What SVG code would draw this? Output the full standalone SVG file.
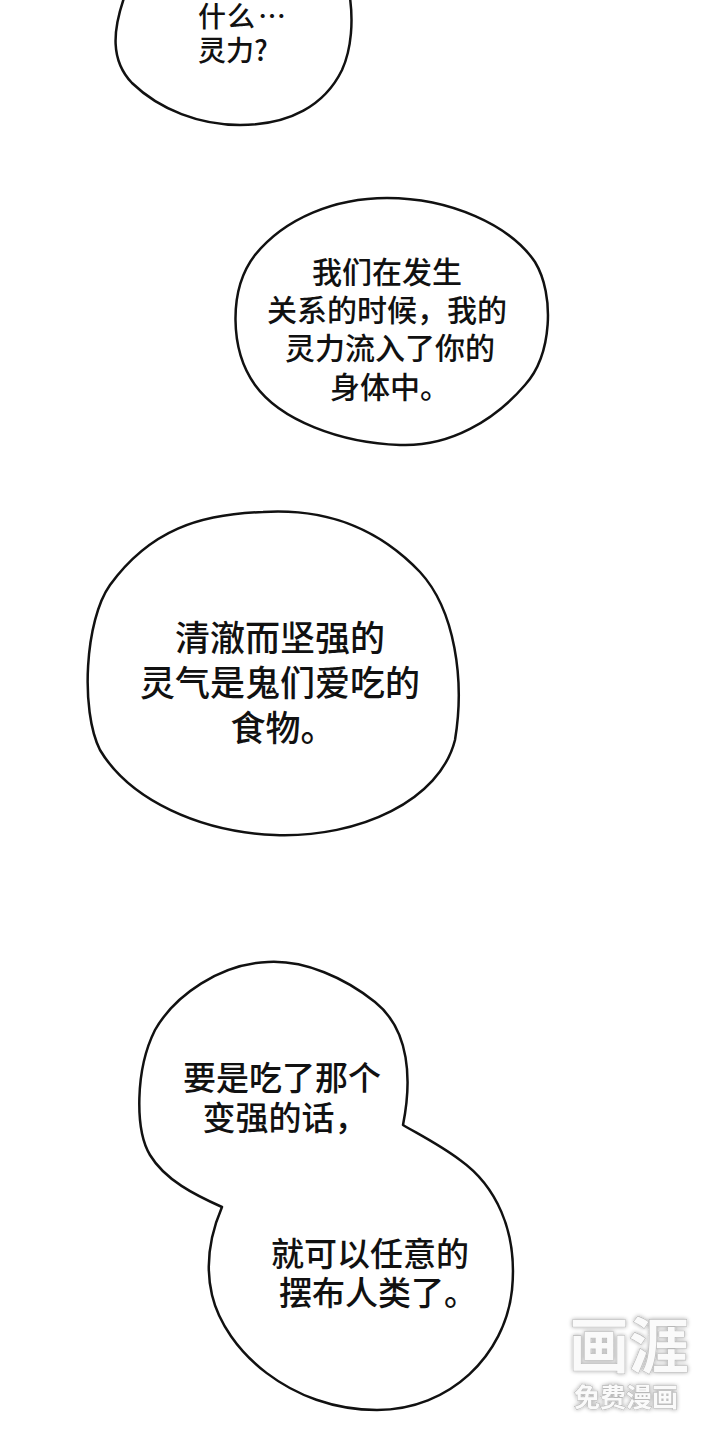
<svg xmlns="http://www.w3.org/2000/svg" width="720" height="1440" viewBox="0 0 720 1440">
<defs>
<style>
.bubble{fill:#ffffff;stroke:#111111;stroke-width:2.5;stroke-linejoin:round}
.t{font-family:"Noto Sans CJK SC","Noto Sans",sans-serif;font-weight:500;fill:#111111;text-anchor:middle}
.ts{text-anchor:start}
.wm{font-family:"Noto Sans CJK SC","Noto Sans",sans-serif;font-weight:700;fill:#fafafa;stroke:#b8b8b8;stroke-width:1.2;paint-order:stroke;text-anchor:middle}
</style>
<filter id="sh" x="-20%" y="-20%" width="140%" height="140%">
<feGaussianBlur in="SourceAlpha" stdDeviation="2"/>
<feComponentTransfer><feFuncA type="linear" slope="0.35"/></feComponentTransfer>
<feMerge><feMergeNode/><feMergeNode in="SourceGraphic"/></feMerge>
</filter>
</defs>
<rect width="720" height="1440" fill="#ffffff"/>
<g id="bubble1">
<path class="bubble" d="M 124,-2 C 113,30 110,60 132,83 C 160,110 200,125 240,125 C 290,125 325,105 342,70 C 352,48 353,20 350,-2"/>
<text class="t ts" font-size="28" x="198" y="27" letter-spacing="1">什么<tspan letter-spacing="0" dx="2">…</tspan></text>
<text class="t ts" font-size="28" x="198" y="61">灵力?</text>
</g>
<g id="bubble2">
<path class="bubble" d="M 387,198 C 450,198 510,225 535,262 C 555,295 552,355 525,385 C 495,420 450,447 400,445 C 340,443 280,420 255,385 C 230,350 228,290 255,255 C 285,218 335,198 387,198 Z"/>
<text class="t" font-size="30"><tspan x="387" y="283">我们在发生</tspan><tspan x="387" y="321">关系的时候，我的</tspan><tspan x="390" y="359">灵力流入了你的</tspan><tspan x="390" y="398">身体中。</tspan></text>
</g>
<g id="bubble3">
<path class="bubble" d="M 263,512 C 330,508 380,530 420,572 C 455,610 465,680 455,740 C 440,800 360,838 275,835 C 200,832 130,800 100,750 C 80,710 85,620 110,585 C 150,530 200,514 263,512 Z"/>
<text class="t" font-size="35"><tspan x="280" y="651">清澈而坚强的</tspan><tspan x="280" y="696">灵气是鬼们爱吃的</tspan><tspan x="283" y="741">食物。</tspan></text>
</g>
<g id="bubble4">
<path class="bubble" d="M 403,1125 C 412,1080 410,1030 375,1002 C 345,978 305,960 268,962 C 220,964 175,995 155,1030 C 135,1070 135,1130 150,1155 C 165,1180 195,1195 222,1207 C 210,1235 205,1265 212,1295 C 225,1350 290,1410 377,1410 C 450,1410 505,1355 512,1290 C 518,1230 495,1185 460,1160 C 440,1145 420,1135 403,1125 Z"/>
<text class="t" font-size="33"><tspan x="282" y="1090">要是吃了那个</tspan><tspan x="285" y="1130">变强的话，</tspan><tspan x="370" y="1266">就可以任意的</tspan><tspan x="378" y="1305">摆布人类了。</tspan></text>
</g>
<g id="watermark" filter="url(#sh)">
<text class="wm" font-size="60" x="629" y="1368">画涯</text>
<text class="wm" font-size="26" x="626" y="1407" font-weight="500" stroke-width="1">免费漫画</text>
</g>
</svg>
